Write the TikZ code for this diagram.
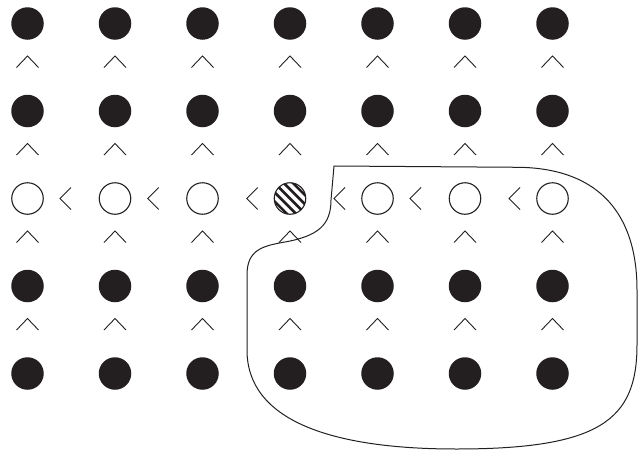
\documentclass[tikz,border=0pt]{standalone}
\definecolor{ink}{HTML}{231F20}
\begin{document}
\begin{tikzpicture}[x=1pt,y=-1pt,
  full/.style={circle,fill=ink,draw=none,minimum size=32.5pt,inner sep=0pt},
  hollow/.style={circle,draw=ink,line width=1.1pt,minimum size=31.5pt,inner sep=0pt},
  sym/.style={draw=ink,line width=0.9pt},
  hatchline/.style={draw=ink,line width=2.6pt},
  outline/.style={draw=ink,line width=1pt}]
\useasboundingbox (0,0) rectangle (638,450);
% filled circles
\foreach \c [count=\i] in {27.5,115,202.5,290,377.5,465,552.5} {
  \foreach \r [count=\j] in {23.5,111,286,373.5} {
    \node[full] (f-\i-\j) at (\c,\r) {};
  }
  \foreach \a in {56,143.5,231,318.5} {
    \draw[sym] ({\c-11},{\a+11.5}) -- (\c,\a) -- ({\c+11},{\a+11.5});
  }
}
% open circles in the middle row
\foreach \c [count=\i] in {27.5,115,202.5,377.5,465,552.5} {
  \node[hollow] (o-\i) at (\c,198.5) {};
}
% hatched circle
\node[hollow] (h) at (290,198.5) {};
\begin{scope}
  \clip (h.center) circle (15.8);
  \begin{scope}[shift={(h.center)}]
    \foreach \k in {-3,...,3} {
      \draw[hatchline] ({\k*4.6-22},{-\k*4.6-22}) -- ({\k*4.6+22},{-\k*4.6+22});
    }
  \end{scope}
\end{scope}
% "<" marks
\foreach \v in {60,147.7,246.7,334,410,509} {
  \draw[sym] ({\v+11},187.5) -- (\v,198.5) -- ({\v+11},209.5);
}
% closed outline
\draw[outline] (334,166) -- (520,167.3)
  .. controls (600,169) and (637,215) .. (637,290)
  -- (637,345)
  .. controls (637,420) and (600,449) .. (456,449)
  .. controls (330,449) and (247,420) .. (247,350)
  -- (247,275)
  .. controls (247,250) and (262,246) .. (285,242)
  .. controls (318,236) and (331,225) .. (331,200)
  -- cycle;
\end{tikzpicture}
\end{document}
